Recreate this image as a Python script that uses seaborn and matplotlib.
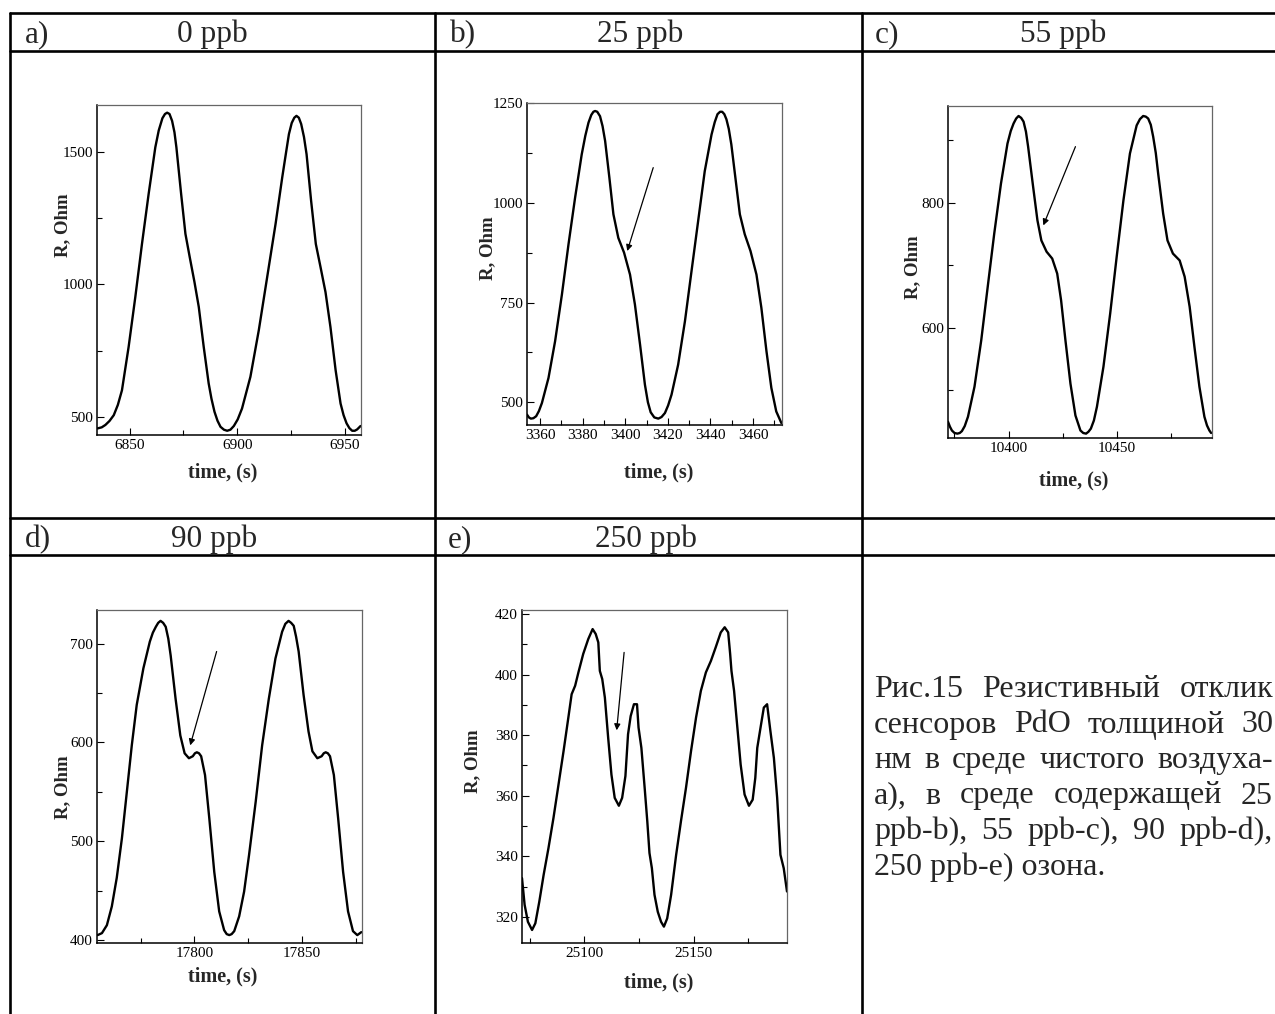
import matplotlib
matplotlib.use("Agg")
import matplotlib.pyplot as plt
from matplotlib.lines import Line2D
from matplotlib.ticker import MultipleLocator
import seaborn as sns

sns.set_style("white")
plt.rcParams['font.family'] = ['Liberation Serif', 'DejaVu Serif']

W, H = 1275, 1014

# ---- data ----
# a) 0 ppb
t_a = [6835.1, 6837.0, 6838.7, 6840.6, 6842.6, 6844.5, 6846.4, 6849.5, 6852.6, 6855.7,
       6858.8, 6861.9, 6863.5, 6865.2, 6866.4, 6867.4, 6868.5, 6869.7, 6870.8, 6871.7,
       6873.9, 6875.9, 6877.9, 6880.1, 6882.1, 6884.4, 6886.7, 6888.0, 6889.4, 6890.8,
       6892.2, 6893.8, 6895.3, 6896.8, 6898.4, 6900.2, 6902.2, 6906.1, 6910.0, 6913.9,
       6917.8, 6920.9, 6922.6, 6924.0, 6925.3, 6926.5, 6927.5, 6928.6, 6929.7, 6931.0,
       6932.2, 6934.3, 6936.5, 6938.7, 6941.0, 6943.3, 6945.7, 6948.0, 6949.4, 6950.8,
       6952.1, 6953.4, 6954.6, 6955.7, 6957.3]
r_a = [456, 460, 469, 484, 506, 545, 600, 764, 952, 1153,
       1342, 1518, 1582, 1628, 1644, 1649, 1644, 1618, 1575, 1518,
       1342, 1191, 1103, 1009, 915, 764, 626, 568, 519, 485,
       462, 451, 447, 451, 465, 490, 531, 651, 827, 1028,
       1229, 1405, 1495, 1568, 1610, 1630, 1637, 1630, 1606, 1557,
       1492, 1317, 1153, 1065, 971, 839, 676, 550, 506, 475,
       457, 447, 447, 452, 465]

# b) 25 ppb
t_b = [3353.8, 3354.7, 3355.6, 3356.8, 3358.1, 3359.4, 3360.8, 3363.9, 3367.0, 3370.2,
       3373.3, 3376.4, 3379.5, 3381.2, 3382.7, 3384.0, 3385.0, 3385.8, 3386.8, 3388.1,
       3389.3, 3390.5, 3392.5, 3394.4, 3396.7, 3399.4, 3402.2, 3404.5, 3406.9, 3409.2,
       3410.6, 3411.9, 3413.6, 3415.5, 3417.0, 3418.6, 3420.1, 3421.7, 3424.8, 3428.0,
       3431.1, 3434.2, 3437.3, 3440.5, 3442.0, 3443.3, 3444.5, 3445.5, 3446.5, 3447.5,
       3448.6, 3449.8, 3451.9, 3453.8, 3456.1, 3458.8, 3461.6, 3463.9, 3466.3, 3468.6,
       3470.9, 3473.3]
r_b = [469, 462, 459, 460, 465, 478, 498, 561, 653, 770,
       896, 1013, 1121, 1168, 1201, 1220, 1228, 1230, 1228, 1217,
       1192, 1155, 1063, 971, 912, 875, 820, 745, 645, 544,
       500, 475, 462, 459, 463, 473, 492, 519, 594, 703,
       829, 954, 1079, 1171, 1202, 1222, 1228, 1228, 1222, 1209,
       1185, 1146, 1054, 971, 921, 879, 820, 737, 628, 536,
       477, 448]

# c) 55 ppb
t_c = [10372.1, 10373.0, 10373.9, 10375.1, 10376.4, 10377.5, 10378.5, 10379.8, 10381.3, 10384.3,
       10387.4, 10390.4, 10393.4, 10396.5, 10399.5, 10401.0, 10402.3, 10403.5, 10404.6, 10405.8,
       10406.9, 10408.0, 10409.0, 10411.3, 10413.3, 10415.1, 10417.5, 10420.1, 10422.4, 10424.2,
       10426.2, 10428.5, 10430.8, 10433.1, 10434.4, 10435.7, 10436.8, 10437.9, 10439.3, 10440.7,
       10443.7, 10446.8, 10449.8, 10452.9, 10455.9, 10459.0, 10460.5, 10462.0, 10463.2, 10464.3,
       10465.5, 10466.6, 10467.8, 10468.9, 10471.2, 10473.2, 10475.7, 10478.8, 10481.1, 10483.4,
       10485.6, 10487.9, 10490.2, 10491.4, 10492.5, 10493.3]
r_c = [450, 442, 436, 432, 431, 432, 435, 443, 458, 506,
       580, 666, 751, 831, 895, 915, 927, 935, 939, 936,
       930, 914, 890, 826, 772, 740, 722, 711, 687, 644,
       580, 511, 460, 436, 432, 431, 434, 439, 452, 474,
       538, 623, 714, 804, 879, 924, 934, 939, 938, 935,
       925, 906, 880, 847, 783, 740, 719, 708, 682, 634,
       570, 506, 458, 444, 436, 432]

# d) 90 ppb
t_d = [17754.9, 17756.9, 17759.2, 17761.5, 17763.8, 17766.2, 17768.5, 17770.8, 17773.1, 17776.2,
       17779.2, 17780.6, 17782.0, 17783.1, 17784.2, 17785.4, 17786.6, 17787.8, 17788.9, 17791.2,
       17793.4, 17795.4, 17797.4, 17799.2, 17800.2, 17801.1, 17802.1, 17803.1, 17804.9, 17806.9,
       17809.2, 17811.5, 17813.8, 17815.0, 17816.2, 17817.3, 17818.5, 17820.8, 17823.1, 17825.4,
       17828.5, 17831.5, 17834.6, 17837.7, 17840.8, 17842.3, 17843.8, 17845.0, 17846.2, 17847.3,
       17848.5, 17850.8, 17853.1, 17854.9, 17857.2, 17859.2, 17860.2, 17861.1, 17862.1, 17863.1,
       17864.9, 17866.9, 17869.2, 17871.5, 17873.8, 17875.8, 17877.7]
r_d = [405, 407, 415, 434, 463, 503, 550, 597, 638, 675,
       702, 711, 717, 721, 723, 721, 717, 705, 688, 644,
       607, 589, 584, 586, 589, 590, 589, 586, 567, 523,
       469, 429, 410, 406, 405, 406, 409, 424, 449, 486,
       540, 597, 644, 685, 712, 720, 723, 721, 718, 707,
       692, 648, 611, 591, 584, 586, 589, 590, 589, 586,
       567, 523, 469, 429, 409, 405, 408]

# e) 250 ppb
t_e = [25071.5, 25072.7, 25074.2, 25076.1, 25077.6, 25079.4, 25081.4, 25083.6, 25085.9, 25088.2,
       25090.5, 25092.7, 25094.2, 25095.8, 25097.3, 25099.5, 25101.8, 25103.8, 25105.2, 25106.4,
       25107.1, 25108.2, 25109.4, 25110.9, 25112.4, 25113.9, 25115.8, 25117.3, 25118.8, 25120.0,
       25121.2, 25122.7, 25124.1, 25124.8, 25126.1, 25127.6, 25128.8, 25129.8, 25130.9, 25132.1,
       25133.6, 25135.1, 25136.4, 25137.9, 25139.7, 25142.0, 25144.2, 25146.5, 25148.8, 25151.1,
       25153.3, 25155.6, 25157.9, 25160.1, 25162.4, 25164.2, 25165.8, 25166.7, 25167.3, 25168.5,
       25170.0, 25171.5, 25173.3, 25175.3, 25177.0, 25178.2, 25179.1, 25180.6, 25182.1, 25183.6,
       25185.1, 25186.7, 25188.2, 25189.7, 25191.2, 25192.7]
r_e = [332.8, 324.0, 318.4, 315.7, 317.9, 325.0, 333.9, 342.7, 352.7, 363.7,
       374.7, 385.8, 393.5, 396.3, 400.7, 406.8, 411.7, 415.0, 413.4, 410.6,
       401.2, 398.5, 392.4, 379.2, 367.0, 359.3, 356.7, 359.3, 366.5, 380.3,
       386.3, 390.2, 390.2, 382.5, 375.8, 362.6, 351.6, 341.1, 336.1, 327.3,
       321.7, 318.4, 316.8, 319.5, 327.3, 340.5, 351.6, 362.6, 374.7, 385.8,
       394.6, 400.7, 404.5, 409.0, 413.9, 415.6, 413.9, 406.8, 401.2, 394.6,
       382.5, 370.3, 360.4, 356.7, 358.7, 365.9, 375.8, 382.5, 389.1, 390.2,
       381.4, 372.5, 359.3, 340.5, 336.1, 328.4]

headers = [("a)", "0 ppb"), ("b)", "25 ppb"), ("c)", "55 ppb"), ("d)", "90 ppb"), ("e)", "250 ppb")]

caption_lines = [
    "Рис.15 Резистивный отклик",
    "сенсоров PdO толщиной 30",
    "нм в среде чистого воздуха-",
    "a), в среде содержащей 25",
    "ppb-b), 55 ppb-c), 90 ppb-d),",
    "250 ppb-e) озона.",
]

# ---- layout ----
panels = [
    dict(t=t_a, r=r_a, box=(97, 105, 361, 435), xlim=(6834.8, 6957.5), ylim=(431, 1678),
         xmaj=50, xmin=25, ymaj=500, ymin=250, ylab=(-0.129, 0.636), xlab=(0.477, -0.115),
         arrow=None),
    dict(t=t_b, r=r_b, box=(527, 103, 782, 425), xlim=(3353.8, 3473.6), ylim=(443, 1250),
         xmaj=20, xmin=10, ymaj=250, ymin=125, ylab=(-0.153, 0.55), xlab=(0.517, -0.149),
         arrow=((3413.1, 1088), (3400.9, 879))),
    dict(t=t_c, r=r_c, box=(948, 106, 1212, 438), xlim=(10372.1, 10493.7), ylim=(424, 955),
         xmaj=50, xmin=25, ymaj=200, ymin=100, ylab=(-0.133, 0.515), xlab=(0.477, -0.127),
         arrow=((10430.8, 890), (10416.0, 764))),
    dict(t=t_d, r=r_d, box=(97, 610, 362, 943), xlim=(17754.6, 17878), ylim=(397, 734),
         xmaj=50, xmin=25, ymaj=100, ymin=50, ylab=(-0.128, 0.468), xlab=(0.474, -0.1),
         arrow=((17810.3, 692), (17798.0, 597))),
    dict(t=t_e, r=r_e, box=(522, 610, 787, 943), xlim=(25071.5, 25192.7), ylim=(311.4, 421.3),
         xmaj=50, xmin=25, ymaj=20, ymin=10, ylab=(-0.185, 0.547), xlab=(0.517, -0.12),
         arrow=((25118.2, 407.3), (25114.8, 381.6))),
]

fig = plt.figure(figsize=(W / 100, H / 100), dpi=100)


def fx(x):
    return x / W


def fy(y):
    return 1 - y / H


# table grid
lw_tab = 1.9
for y in (13, 51, 518, 555):
    fig.add_artist(Line2D([fx(10), 1], [fy(y), fy(y)], color="k", lw=lw_tab))
for x in (10, 435, 862):
    fig.add_artist(Line2D([fx(x), fx(x)], [fy(13), 0], color="k", lw=lw_tab))

# header texts
head_pos = [(25, 42, 212), (450, 42, 640), (875, 42, 1063), (25, 547, 214), (448, 547, 646)]
for (lab, conc), (xl, yb, xc) in zip(headers, head_pos):
    fig.text(fx(xl), fy(yb), lab, fontsize=22.5, va="baseline", ha="left")
    fig.text(fx(xc), fy(yb), conc, fontsize=22.5, va="baseline", ha="center")

# panels
for p in panels:
    l, t, r, b = p["box"]
    ax = fig.add_axes([fx(l), fy(b), (r - l) / W, (b - t) / H])
    sns.lineplot(x=p["t"], y=p["r"], ax=ax, color="k", lw=1.7, sort=False,
                 solid_joinstyle="round", solid_capstyle="round")
    ax.set_xlim(*p["xlim"])
    ax.set_ylim(*p["ylim"])
    ax.xaxis.set_major_locator(MultipleLocator(p["xmaj"]))
    ax.xaxis.set_minor_locator(MultipleLocator(p["xmin"]))
    ax.yaxis.set_major_locator(MultipleLocator(p["ymaj"]))
    ax.yaxis.set_minor_locator(MultipleLocator(p["ymin"]))
    ax.tick_params(which="both", direction="in", top=False, right=False,
                   bottom=True, left=True, labelsize=11, pad=3, width=0.8, colors="k")
    ax.tick_params(which="major", length=5)
    ax.tick_params(which="minor", length=3.5)
    for s in ("left", "bottom"):
        ax.spines[s].set_color("k")
        ax.spines[s].set_linewidth(1.1)
    for s in ("top", "right"):
        ax.spines[s].set_color("#666666")
        ax.spines[s].set_linewidth(0.9)
    ax.set_xlabel("time, (s)", fontsize=14.5, fontweight="bold")
    ax.set_ylabel("R, Ohm", fontsize=13.5, fontweight="bold")
    ax.xaxis.set_label_coords(*p["xlab"])
    ax.yaxis.set_label_coords(*p["ylab"])
    ax.xaxis.label.set_va("center")
    ax.yaxis.label.set_va("center")
    if p["arrow"] is not None:
        tail, head = p["arrow"]
        ax.annotate("", xy=head, xytext=tail,
                    arrowprops=dict(arrowstyle="-|>", color="k", lw=0.9, mutation_scale=9,
                                    shrinkA=0, shrinkB=0))

# justified caption
renderer = fig.canvas.get_renderer()
cap_left, cap_right = 874, 1273
cap_base = [697, 732.5, 768, 803.5, 839, 874.5]
cap_size = 23
for i, (line, yb) in enumerate(zip(caption_lines, cap_base)):
    words = line.split(" ")
    if i == len(caption_lines) - 1:
        fig.text(fx(cap_left), fy(yb), line, fontsize=cap_size, va="baseline", ha="left")
        continue
    arts = [fig.text(0, fy(yb), w, fontsize=cap_size, va="baseline", ha="left") for w in words]
    widths = [a.get_window_extent(renderer).width for a in arts]
    gap = (cap_right - cap_left - sum(widths)) / (len(words) - 1)
    x = cap_left
    for a, wdt in zip(arts, widths):
        a.set_x(fx(x))
        x += wdt + gap

fig.savefig("out.png", dpi=100, facecolor="white")
